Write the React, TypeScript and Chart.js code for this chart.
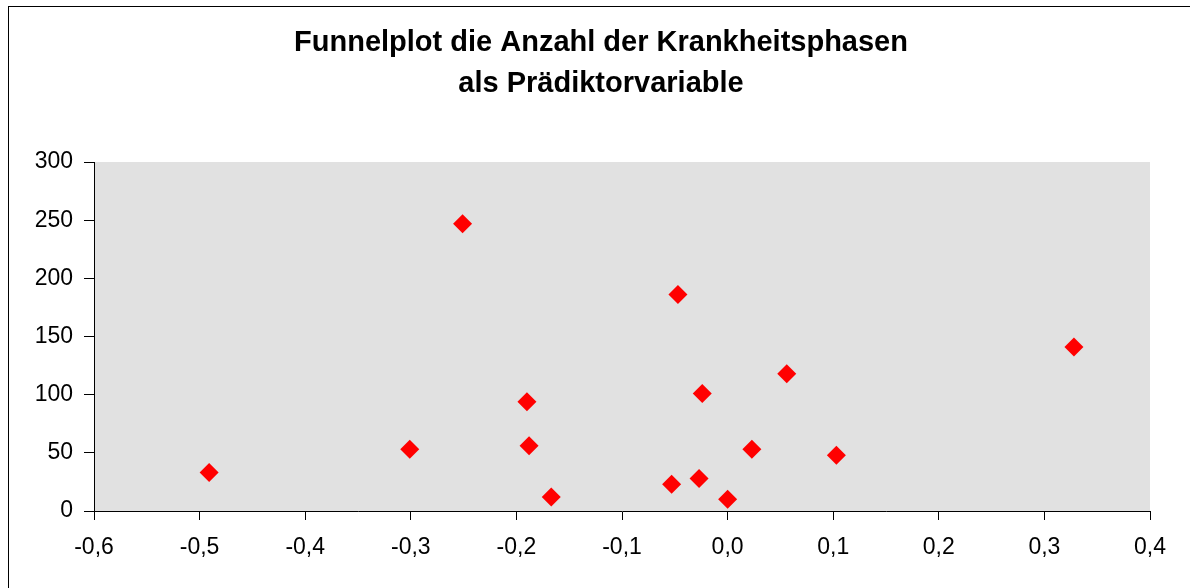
import React, { useEffect, useRef } from "react";
import { Chart, registerables } from "chart.js";

Chart.register(...registerables);

const titleLines = ["Funnelplot die Anzahl der Krankheitsphasen", "als Prädiktorvariable"];
const effectSizes = [-0.491, -0.301, -0.251, -0.19, -0.188, -0.167, -0.053, -0.047, -0.027, -0.024, 0.0, 0.023, 0.056, 0.103, 0.328];
const sampleSizes = [33, 53, 247, 94, 56, 12, 23, 186, 28, 101, 10, 53, 118, 48, 141];
const xMin = -0.6;
const xMax = 0.4;
const yMin = 0;
const yMax = 300;
const yStep = 50;

const FONT = "'Liberation Sans', Arial, sans-serif";

const plotBg = {
  id: "plotBg",
  beforeDraw(chart: any) {
    const { ctx, chartArea } = chart;
    ctx.save();
    ctx.fillStyle = "#E1E1E1";
    ctx.fillRect(chartArea.left, chartArea.top, chartArea.right - chartArea.left, chartArea.bottom - chartArea.top);
    ctx.restore();
  },
  afterDraw(chart: any) {
    const { ctx } = chart;
    ctx.save();
    ctx.fillStyle = "#000";
    ctx.font = `bold 29px ${FONT}`;
    ctx.textAlign = "center";
    ctx.textBaseline = "middle";
    titleLines.forEach((line, i) => {
      ctx.fillText(line, 601, 43 + i * 41);
    });
    ctx.restore();
  },
};

export default function App() {
  const ref = useRef<HTMLCanvasElement>(null);
  useEffect(() => {
    if (!ref.current) return;
    const points = effectSizes.map((x, i) => ({ x, y: sampleSizes[i] }));
    const chart = new Chart(ref.current, {
      type: "scatter",
      data: {
        datasets: [
          {
            data: points,
            pointStyle: "rectRot",
            pointRadius: 9.5,
            pointHoverRadius: 9.5,
            backgroundColor: "#FF0000",
            borderColor: "#FF0000",
            borderWidth: 0,
          },
        ],
      },
      options: {
        animation: false,
        responsive: false,
        maintainAspectRatio: false,
        layout: { padding: { left: 0, right: 40, top: 162, bottom: 0 } },
        plugins: {
          legend: { display: false },
          tooltip: { enabled: false },
          title: { display: false },
        },
        scales: {
          x: {
            type: "linear",
            min: xMin,
            max: xMax,
            afterFit(scale: any) {
              scale.height = 77;
            },
            ticks: {
              stepSize: 0.1,
              color: "#000",
              padding: 14,
              font: { family: FONT, size: 23 },
              callback: (v: any) => {
                const n = Math.abs(v) < 1e-9 ? 0 : Number(v);
                return n.toFixed(1).replace(".", ",");
              },
            },
            grid: {
              drawOnChartArea: false,
              drawTicks: true,
              tickLength: 9,
              color: "#000",
            },
            border: { display: true, color: "#000", width: 1 },
          },
          y: {
            type: "linear",
            min: yMin,
            max: yMax,
            afterFit(scale: any) {
              scale.width = 94;
            },
            ticks: {
              stepSize: yStep,
              color: "#000",
              padding: 11,
              font: { family: FONT, size: 23 },
            },
            grid: {
              drawOnChartArea: false,
              drawTicks: true,
              tickLength: 10,
              color: "#000",
            },
            border: { display: true, color: "#000", width: 1 },
          },
        },
      },
      plugins: [plotBg],
    });
    return () => chart.destroy();
  }, []);

  return (
    <div style={{ position: "fixed", left: 0, top: 0, width: 1190, height: 588, background: "#fff", overflow: "hidden" }}>
      <div
        style={{
          position: "absolute",
          left: 8,
          top: 6,
          width: 1200,
          height: 600,
          borderLeft: "1px solid #000",
          borderTop: "1px solid #000",
        }}
      />
      <canvas ref={ref} width={1190} height={588} style={{ position: "absolute", left: 0, top: 0, width: 1190, height: 588 }} />
    </div>
  );
}
